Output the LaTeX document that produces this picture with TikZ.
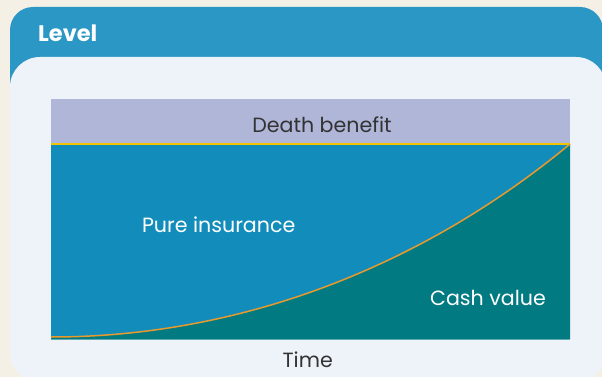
\documentclass[tikz,border=0pt]{standalone}
\usepackage{fontspec}
\setmainfont{Poppins}
\usetikzlibrary{positioning}

\definecolor{sand}{HTML}{F4F0E6}
\definecolor{cardblue}{HTML}{2B97C4}
\definecolor{panel}{HTML}{EEF3FA}
\definecolor{lilac}{HTML}{B0B6D8}
\definecolor{insblue}{HTML}{128DBB}
\definecolor{cashteal}{HTML}{017A82}
\definecolor{gold}{HTML}{F5C400}
\definecolor{curveorange}{HTML}{E89A2C}
\definecolor{ink}{HTML}{333333}

\begin{document}
\begin{tikzpicture}[x=1pt, y=-1pt,
    txt/.style = {font=\fontsize{20.6}{24}\selectfont, anchor=base, inner sep=0pt},
    title/.style = {font=\fontsize{22.5}{26}\selectfont\bfseries, anchor=base west, inner sep=0pt, text=white}]
    \useasboundingbox (0,0) rectangle (602,377);
    \fill[sand] (0,0) rectangle (602,377);
    \fill[cardblue, rounded corners=23pt] (10,7) rectangle (603,200);
    \fill[panel, rounded corners=30pt] (10,57) rectangle (606,382);

    \fill[lilac] (51,99) rectangle (570,144);
    \fill[insblue] (51,144) rectangle (570,339);
    \fill[cashteal] (51,337) .. controls (250,337) and (430,260) .. (570,144) -- (570,339) -- (51,339) -- cycle;
    \draw[gold, line width=1.6pt] (51,144) -- (570,144);
    \draw[curveorange, line width=1.5pt] (51,337) .. controls (250,337) and (430,260) .. (570,144);
    \draw[cashteal!60!panel, line width=1pt] (51,339) -- (570,339);

    \node[title] (level) at (38,41.7) {Level};
    \node[txt, text=ink] (death) at (322,132) {Death benefit};
    \node[txt, text=white] (pure) at (218.7,232) {Pure insurance};
    \node[txt, text=white] (cash) at (488,305) {Cash value};
    \node[txt, text=ink] (time) at (307.7,367.3) {Time};
\end{tikzpicture}
\end{document}
